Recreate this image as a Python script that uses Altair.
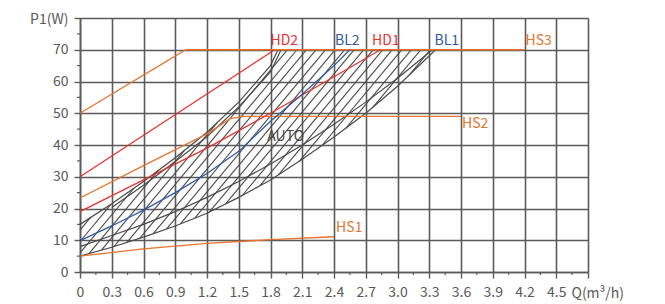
import altair as alt
import pandas as pd
import numpy as np

# ---------------- data ----------------
hd2_q = [0, 1.84]
hd2_p = [30, 70]
hd1_q = [0, 0.6, 1.2, 1.8, 2.4, 2.84]
hd1_p = [19, 29, 39, 50, 61.5, 70]
bl2_q = [0, 0.3, 0.6, 0.9, 1.2, 1.5, 1.8, 2.1, 2.4, 2.55]
bl2_p = [9.9, 14.5, 19.5, 25, 31, 38, 47.5, 56, 65, 70]
hs3_q = [0, 1.0, 4.2]
hs3_p = [50, 70, 70]
hs2_q = [0, 0.6, 1.2, 1.42, 1.55, 3.6]
hs2_p = [23.3, 33.5, 43.5, 48.3, 49, 49]
hs1_q = [0, 0.6, 1.2, 1.8, 2.4]
hs1_p = [5, 7.3, 9.0, 10.2, 11.1]
auto_up_q = [0, 0.3, 0.6, 0.9, 1.2, 1.5, 1.8, 1.87]
auto_up_p = [15, 21.5, 28.5, 36, 44, 53.5, 65, 70]
auto_up2_q = [0.3, 0.6, 0.9, 1.2, 1.5, 1.8, 1.9]
auto_up2_p = [20.3, 27.3, 34.8, 42.6, 52, 63, 70]
auto_lo_q = [0, 0.3, 0.6, 0.9, 1.2, 1.5, 1.8, 2.1, 2.4, 2.7, 3.0, 3.36]
auto_lo_p = [5, 7.8, 11, 14.5, 18.5, 23.5, 29, 35.5, 42.5, 50, 58.5, 70]
auto_lo2_q = [0, 0.3, 0.6, 0.9, 1.2, 1.5, 1.8, 2.1, 2.4, 2.7, 3.0, 3.33]
auto_lo2_p = [8, 11.5, 15, 19, 23.5, 28.5, 34, 40, 46.5, 53.5, 61, 70]

x_ticks = [round(0.3 * i, 2) for i in range(17)]          # 0 .. 4.8
y_ticks = [10 * i for i in range(9)]                      # 0 .. 80
x_minor = [round(0.15 + 0.3 * i, 2) for i in range(16)]
y_minor = [5 + 10 * i for i in range(8)]

label_text = ["HD2", "BL2", "HD1", "BL1", "HS3", "HS2", "HS1", "AUTO"]
label_q = [1.80, 2.41, 2.76, 3.35, 4.21, 3.61, 2.42, 1.77]
label_p = [72.7, 72.7, 72.7, 72.7, 72.7, 46.6, 13.9, 42.6]
label_color = ["#e8322e", "#2f5aa8", "#e8322e", "#2f5aa8", "#e8732b", "#e8732b", "#e8732b", "#444444"]

RED, BLUE, ORANGE, GRAY = "#e8322e", "#2f5aa8", "#e8732b", "#4a4a4a"

# ---------------- build tables ----------------
def series(name, q, p):
    return pd.DataFrame({"series": name, "q": q, "p": p, "i": range(len(q))})

colored = pd.concat([
    series("HS1", hs1_q, hs1_p),
    series("HS2", hs2_q, hs2_p),
    series("HS3", hs3_q, hs3_p),
    series("HD1", hd1_q, hd1_p),
    series("HD2", hd2_q, hd2_p),
    series("BL2", bl2_q, bl2_p),
])
gray = pd.concat([
    series("up", auto_up_q, auto_up_p),
    series("up2", auto_up2_q, auto_up2_p),
    series("lo", auto_lo_q, auto_lo_p),
    series("lo2", auto_lo2_q, auto_lo2_p),
])

# hatch segments clipped to the AUTO region
xs = np.linspace(0, 4.8, 9601)
lo = np.interp(xs, auto_lo_q, auto_lo_p, right=1e9)
up = np.minimum(np.interp(xs, auto_up_q, auto_up_p, right=70), 70)
slope = 40.0
spacing = 0.09
segs = []
for c in np.arange(-0.6, 3.6, spacing):
    yy = slope * (xs - c)
    inside = (yy >= lo) & (yy <= up)
    idx = np.flatnonzero(inside)
    if idx.size < 2:
        continue
    breaks = np.flatnonzero(np.diff(idx) > 1)
    starts = np.r_[idx[0], idx[breaks + 1]]
    ends = np.r_[idx[breaks], idx[-1]]
    for s, e in zip(starts, ends):
        if e > s:
            segs.append({"q": xs[s], "p": yy[s], "q2": xs[e], "p2": yy[e]})
hatch = pd.DataFrame(segs)

labels = pd.DataFrame({"t": label_text, "q": label_q, "p": label_p, "c": label_color})

FONT = "Noto Sans CJK SC"
TXT = "#595959"
GRID = "#5a5a5a"

xscale = alt.Scale(domain=[0, 4.8], nice=False, zero=False)
yscale = alt.Scale(domain=[0, 80], nice=False, zero=False)

xaxis = alt.Axis(values=x_ticks, grid=True, gridColor=GRID, gridWidth=1.6,
                 domainColor=GRID, domainWidth=1.6, tickColor=GRID, tickWidth=1.4, tickSize=6,
                 labelExpr="datum.value >= 4.75 ? '' : (datum.value == 0 ? '0' : format(datum.value, '.1f'))",
                 labelFont=FONT, labelFontSize=14, labelColor=TXT, labelPadding=7,
                 title="Q(m³/h)", titleFont=FONT, titleFontSize=14, titleFontWeight="normal",
                 titleColor=TXT, titleAlign="left", titleAnchor="start", titleBaseline="middle",
                 titleX=491, titleY=21, labelFlush=False)
yaxis = alt.Axis(values=y_ticks, grid=True, gridColor=GRID, gridWidth=1.6,
                 domainColor=GRID, domainWidth=1.6, tickColor=GRID, tickWidth=1.4, tickSize=6,
                 labelExpr="datum.value >= 80 ? '' : datum.label",
                 labelFont=FONT, labelFontSize=14, labelColor=TXT, labelPadding=6,
                 title="P1(W)", titleFont=FONT, titleFontSize=14, titleFontWeight="normal",
                 titleColor=TXT, titleAngle=0, titleAlign="right", titleBaseline="middle",
                 titleX=-12, titleY=1, labelFlush=False)

X = alt.X("q:Q", scale=xscale, axis=xaxis)
Y = alt.Y("p:Q", scale=yscale, axis=yaxis)

hatch_layer = alt.Chart(hatch).mark_rule(color=GRAY, strokeWidth=1.1).encode(
    x=X, y=Y, x2="q2:Q", y2="p2:Q")

gray_layer = alt.Chart(gray).mark_line(color=GRAY, strokeWidth=1.2).encode(
    x=X, y=Y, detail="series:N", order="i:Q")

colored_layer = alt.Chart(colored).mark_line(strokeWidth=1.3).encode(
    x=X, y=Y, detail="series:N", order="i:Q",
    color=alt.Color("series:N", legend=None,
                    scale=alt.Scale(domain=["HS1", "HS2", "HS3", "HD1", "HD2", "BL2"],
                                    range=[ORANGE, ORANGE, ORANGE, RED, RED, BLUE])))

text_layer = alt.Chart(labels).mark_text(font=FONT, fontSize=14, align="left", baseline="middle").encode(
    x=X, y=Y, text="t:N", color=alt.Color("c:N", scale=None))

xminor = alt.Chart(pd.DataFrame({"q": x_minor})).mark_rule(color=GRID, strokeWidth=1.2).encode(
    x=X, y=alt.value(254), y2=alt.value(257))
yminor = alt.Chart(pd.DataFrame({"p": y_minor})).mark_rule(color=GRID, strokeWidth=1.2).encode(
    y=Y, x=alt.value(-3), x2=alt.value(0))

chart = alt.layer(hatch_layer, gray_layer, colored_layer, text_layer, xminor, yminor).properties(
    width=508, height=254,
    autosize=alt.AutoSizeParams(type="none"),
    padding={"left": 72, "top": 10, "right": 69, "bottom": 32},
).configure_view(stroke=None).configure(background="white")

chart.save("out.html", embed_options={"renderer": "svg", "actions": False})
